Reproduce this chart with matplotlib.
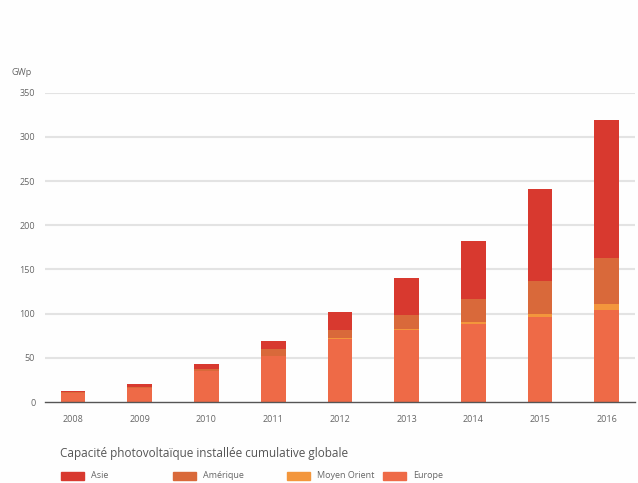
import matplotlib
matplotlib.use("Agg")
import matplotlib.pyplot as plt
from matplotlib.patches import Rectangle
import numpy as np

plt.rcParams['font.family'] = ['Open Sans', 'DejaVu Sans']

years = ["2008", "2009", "2010", "2011", "2012", "2013", "2014", "2015", "2016"]
europe = [10, 16, 35, 52, 71, 81, 88, 96, 104]
moyen_orient = [0, 0, 0, 0.5, 1, 1.5, 2.5, 3.5, 7]
amerique = [1, 1.5, 2.5, 7, 10, 16, 26, 37, 52]
asie = [2, 3, 5, 10, 20, 42, 66, 104, 156]
yticks = [0, 50, 100, 150, 200, 250, 300, 350]
title = "Capacité photovoltaïque installée cumulative globale"
unit = "GWp"

c_asie = "#d8392f"
c_am = "#d9693a"
c_mo = "#f3963c"
c_eu = "#ee6a47"

fig = plt.figure(figsize=(6.38, 4.83), dpi=100)
fig.patch.set_facecolor("#fefefe")
ax = fig.add_axes([0.0705, 0.1677, 0.9245, 0.6405])
ax.set_facecolor("#fefefe")

x = np.arange(len(years))
w = 0.37
eu = np.array(europe); mo = np.array(moyen_orient); am = np.array(amerique); asi = np.array(asie)
ax.bar(x, eu, w, color=c_eu, zorder=3)
ax.bar(x, mo, w, bottom=eu, color=c_mo, zorder=3)
ax.bar(x, am, w, bottom=eu + mo, color=c_am, zorder=3)
ax.bar(x, asi, w, bottom=eu + mo + am, color=c_asie, zorder=3)

ax.set_xlim(-0.42, 8.42)
ax.set_ylim(0, 350)
ax.set_yticks(yticks)
ax.set_yticklabels([str(v) for v in yticks])
ax.set_xticks(x)
ax.set_xticklabels(years)
for y in yticks[1:]:
    ax.axhline(y, color="#e3e3e3", lw=1.5, zorder=1)
for s in ["top", "right", "left"]:
    ax.spines[s].set_visible(False)
ax.spines["bottom"].set_color("#555555")
ax.spines["bottom"].set_linewidth(1.0)
ax.spines["bottom"].set_zorder(4)
ax.tick_params(axis="both", length=0, labelsize=6.5, colors="#666666")
ax.tick_params(axis="x", pad=9)
ax.tick_params(axis="y", pad=7)

fig.text(12 / 638, 1 - 72 / 483, unit, fontsize=6.5, color="#666666", va="center", ha="left")
fig.text(60 / 638, 1 - 453 / 483, title, fontsize=8.5, color="#555555", va="center", ha="left")

labels = ["Asie", "Amérique", "Moyen Orient", "Europe"]
colors = [c_asie, c_am, c_mo, c_eu]
sw_x = [61, 173, 287, 383]
ly = 476
for lab, col, sx in zip(labels, colors, sw_x):
    fig.add_artist(Rectangle((sx / 638, 1 - (ly + 4) / 483), 23 / 638, 8 / 483,
                             transform=fig.transFigure, color=col))
    fig.text((sx + 30) / 638, 1 - ly / 483, lab, fontsize=6.5, color="#666666", va="center", ha="left")

fig.savefig("out.png", dpi=100, facecolor=fig.get_facecolor())
